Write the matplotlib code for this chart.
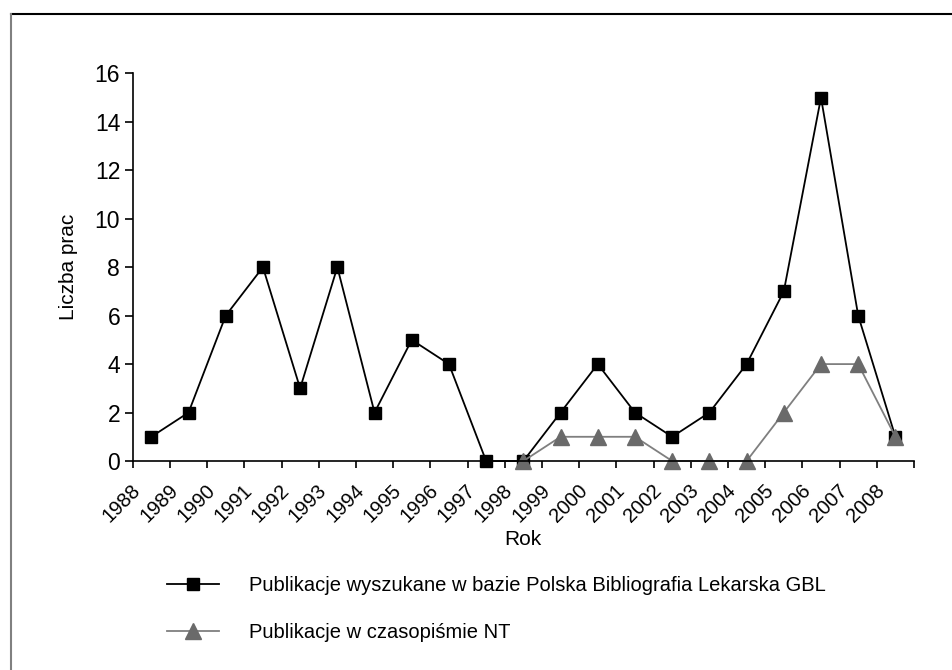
import matplotlib.pyplot as plt
from matplotlib.lines import Line2D
from matplotlib.transforms import ScaledTranslation
import numpy as np

# dane
lata = [str(r) for r in range(1988, 2009)]
gbl = [1, 2, 6, 8, 3, 8, 2, 5, 4, 0, 0, 2, 4, 2, 1, 2, 4, 7, 15, 6, 1]
nt = [np.nan] * 10 + [0, 1, 1, 1, 0, 0, 0, 2, 4, 4, 1]

plt.rcParams['font.family'] = ['Liberation Sans Narrow', 'Liberation Sans', 'DejaVu Sans']
plt.rcParams['font.size'] = 15

fig = plt.figure(figsize=(9.52, 6.70), dpi=100)
ax = fig.add_axes([0.1394, 0.3119, 0.8207, 0.5787])

x = np.arange(len(lata)) + 0.5
ax.plot(x, gbl, color='black', lw=1.3, marker='s', markersize=9, clip_on=False,
        label='Publikacje wyszukane w bazie Polska Bibliografia Lekarska GBL')
ax.plot(x, nt, color='#7f7f7f', lw=1.3, marker='^', markersize=11, clip_on=False,
        markerfacecolor='#6a6a6a', markeredgecolor='#6a6a6a',
        label='Publikacje w czasopiśmie NT')

ax.set_xlim(0, len(lata))
ax.set_ylim(0, 16)
ax.set_yticks(range(0, 17, 2))
ax.set_xticks(range(len(lata) + 1))
ax.set_xticklabels(lata + [''], rotation=45, ha='right', va='center',
                   rotation_mode='anchor')
ax.tick_params(axis='x', length=5, width=1.2, pad=14, labelsize=14.5)
ax.tick_params(axis='y', length=6, width=1.2, pad=3, labelsize=16.5)
przesun = ScaledTranslation(5 / 100, 0, fig.dpi_scale_trans)
for t in ax.get_xticklabels():
    t.set_transform(t.get_transform() + przesun)

for s in ['top', 'right']:
    ax.spines[s].set_visible(False)
for s in ['left', 'bottom']:
    ax.spines[s].set_linewidth(1.2)

ax.set_xlabel('Rok')
ax.xaxis.set_label_coords(0.5, -0.178)
ax.set_ylabel('Liczba prac')
ax.yaxis.set_label_coords(-0.07, 0.5)

fig.legend(loc='upper left', bbox_to_anchor=(0.175, 0.14), frameon=False,
           fontsize=14.5, handlelength=2.6, handletextpad=1.5, labelspacing=1.4,
           borderaxespad=0, borderpad=0)

# ramka
fig.add_artist(Line2D([11 / 952, 1], [1 - 14 / 670] * 2, color='black', lw=1.5))
fig.add_artist(Line2D([11 / 952] * 2, [0, 1 - 14 / 670], color='#808080', lw=1.5))

fig.savefig('out.png', dpi=100)
